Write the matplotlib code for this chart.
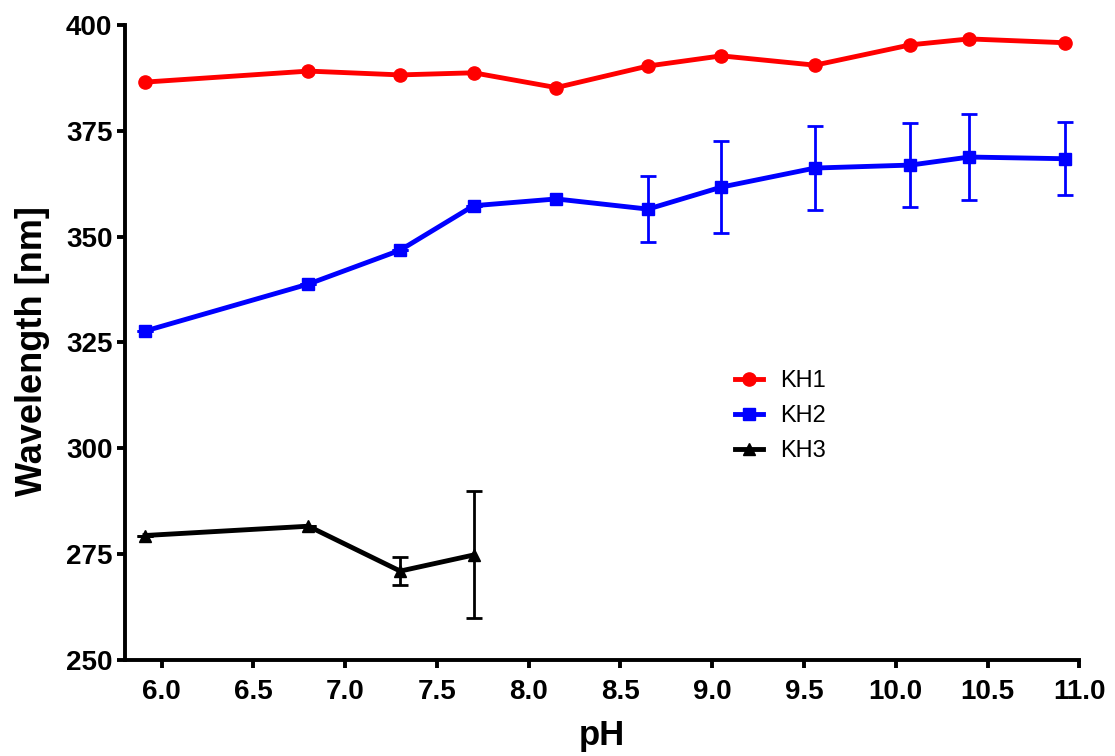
import matplotlib
matplotlib.use("Agg")
import matplotlib.pyplot as plt
from matplotlib.lines import Line2D

plt.rcParams['font.family'] = ['Liberation Sans', 'DejaVu Sans']

ph1 = [5.91, 6.8, 7.3, 7.7, 8.15, 8.65, 9.05, 9.56, 10.08, 10.4, 10.92]
kh1 = [386.5, 389.1, 388.2, 388.7, 385.2, 390.3, 392.7, 390.5, 395.3, 396.7, 395.8]

ph2 = [5.91, 6.8, 7.3, 7.7, 8.15, 8.65, 9.05, 9.56, 10.08, 10.4, 10.92]
kh2 = [327.7, 338.8, 346.8, 357.3, 358.9, 356.5, 361.7, 366.2, 366.9, 368.8, 368.4]
kh2_err = [0, 0, 0, 0, 0, 7.8, 10.9, 9.9, 10.0, 10.2, 8.6]

ph3 = [5.91, 6.8, 7.3, 7.7]
kh3 = [279.4, 281.6, 271.0, 274.8]
kh3_err = [0, 0, 3.3, 15.0]

fig = plt.figure(figsize=(11.15, 7.56), dpi=100)
ax = fig.add_axes([0.112, 0.127, 0.856, 0.840])

lw = 3.5
styles = [('#ff0000', 'o', 9.5), ('#0000ff', 's', 8.5), ('black', '^', 9)]
ax.errorbar(ph1, kh1, color=styles[0][0], marker='o', markersize=9.5, lw=lw)
ax.errorbar(ph2, kh2, yerr=kh2_err, color=styles[1][0], marker='s', markersize=8.5, lw=lw,
            elinewidth=2, capsize=6, capthick=2)
ax.errorbar(ph3, kh3, yerr=kh3_err, color=styles[2][0], marker='^', markersize=9, lw=lw,
            elinewidth=2, capsize=6, capthick=2)

ax.set_xlim(5.8, 11.0)
ax.set_ylim(250, 400)
ax.set_xticks([6.0, 6.5, 7.0, 7.5, 8.0, 8.5, 9.0, 9.5, 10.0, 10.5, 11.0])
ax.set_yticks([250, 275, 300, 325, 350, 375, 400])
ax.xaxis.set_major_formatter(matplotlib.ticker.FormatStrFormatter('%.1f'))

for s in ['top', 'right']:
    ax.spines[s].set_visible(False)
for s in ['left', 'bottom']:
    ax.spines[s].set_linewidth(2.8)
ax.tick_params(width=2.8, length=6, labelsize=20)
ax.tick_params(axis='x', pad=8)
ax.tick_params(axis='y', pad=3)
for t in ax.get_xticklabels() + ax.get_yticklabels():
    t.set_fontweight('bold')

ax.set_xlabel('pH', fontsize=25, fontweight='bold', labelpad=10)
ax.set_ylabel('Wavelength [nm]', fontsize=26, fontweight='bold')
ax.yaxis.set_label_coords(-0.078, 0.486)

handles = [Line2D([], [], color=c, marker=m, markersize=ms, lw=lw) for c, m, ms in styles]
ax.legend(handles, ['KH1', 'KH2', 'KH3'], loc='upper left', bbox_to_anchor=(0.617, 0.49),
          frameon=False, fontsize=17, handlelength=1.2, handletextpad=0.7,
          labelspacing=0.55)

fig.savefig('out.png', dpi=100)
